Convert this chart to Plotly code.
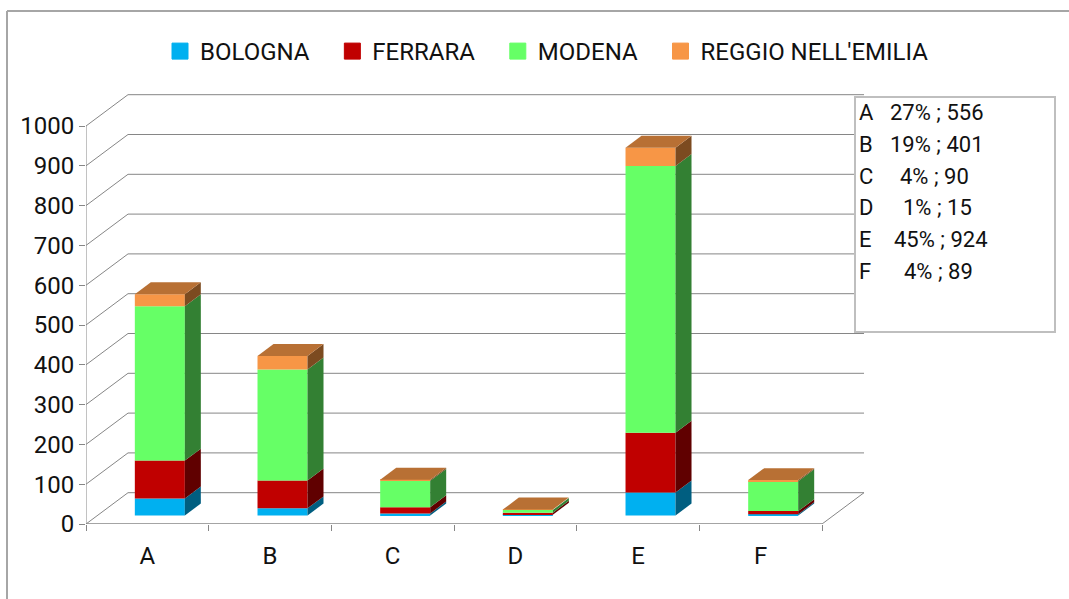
import plotly.graph_objects as go

# data
categories = ["A", "B", "C", "D", "E", "F"]
bologna = [43, 18, 5, 2, 58, 3]
ferrara = [95, 70, 16, 5, 150, 8]
modena = [388, 279, 66, 7, 670, 75]
reggio = [30, 34, 3, 1, 46, 3]
series_names = ["BOLOGNA", "FERRARA", "MODENA", "REGGIO NELL'EMILIA"]
y_ticks = [0, 100, 200, 300, 400, 500, 600, 700, 800, 900, 1000]
box_letters = ["A", "B", "C", "D", "E", "F"]
box_texts = ["27% ; 556", "19% ; 401", "4% ; 90", "1% ; 15", "45% ; 924", "4% ; 89"]

front_colors = ["#00B0F0", "#C00000", "#66FF66", "#F79646"]
side_colors = ["#005E80", "#600000", "#338033", "#7C4B20"]
top_color = "#B87034"
grid_color = "#868686"
frame_color = "#A6A6A6"
font = "Roboto"
text_color = "#111111"

# page geometry in pixels, the plot area is a bit taller than the back wall so its top line is not clipped
W, H = 1069, 599
left, right, top, bottom = 86, 866, 92, 524
slot_px = 122.67
px_per_unit = 0.398

# 3d projection, in axis units
wall_dx = 42 / slot_px
wall_dy = 31.3 / px_per_unit
bar_dx = 16 / slot_px
bar_dy = 30
shift_x = 12.5 / slot_px
shift_y = 8.5 / px_per_unit
bar_w = 50 / slot_px
n = len(categories)


def paper_x(px):
    return (px - left) / (right - left)


def paper_y(px):
    return (bottom - px) / (bottom - top)


fig = go.Figure()

all_series = [bologna, ferrara, modena, reggio]
bases = [shift_y] * n
for s, values in enumerate(all_series):
    xs = [i + 0.5 + shift_x for i in range(n)]
    fig.add_trace(go.Bar(x=xs, y=values, base=bases, width=bar_w, showlegend=False,
                         marker=dict(color=front_colors[s], line_width=0), hoverinfo="skip"))
    for i in range(n):
        x1 = xs[i] + bar_w / 2
        b = bases[i]
        t = b + values[i]
        # side face of this segment
        fig.add_trace(go.Scatter(x=[x1, x1 + bar_dx, x1 + bar_dx, x1, x1],
                                 y=[b, b + bar_dy, t + bar_dy, t, b],
                                 mode="lines", fill="toself", fillcolor=side_colors[s],
                                 line=dict(width=0), showlegend=False, hoverinfo="skip"))
    bases = [bases[i] + values[i] for i in range(n)]

# top faces
for i in range(n):
    x0 = i + 0.5 + shift_x - bar_w / 2
    x1 = x0 + bar_w
    t = bases[i]
    fig.add_trace(go.Scatter(x=[x0, x1, x1 + bar_dx, x0 + bar_dx, x0],
                             y=[t, t, t + bar_dy, t + bar_dy, t],
                             mode="lines", fill="toself", fillcolor=top_color,
                             line=dict(width=0), showlegend=False, hoverinfo="skip"))

# legend entries, bigger squares than the bar traces would give
# the nbsp padding spreads the entries out, plotly has no gap setting for this
for s, name in enumerate(series_names):
    pad = "\u00a0" * 3 if s < len(series_names) - 1 else ""
    fig.add_trace(go.Scatter(x=[None], y=[None], mode="markers", name=name + pad,
                             marker=dict(symbol="square", size=16, color=front_colors[s],
                                         line=dict(width=1, color=front_colors[s]))))

shapes = []
for v in y_ticks:
    shapes.append(dict(type="line", xref="x", yref="y", x0=0, y0=v, x1=wall_dx, y1=v + wall_dy,
                       line=dict(color=grid_color, width=1), layer="below"))
    shapes.append(dict(type="line", xref="x", yref="y", x0=wall_dx, y0=v + wall_dy, x1=n + wall_dx, y1=v + wall_dy,
                       line=dict(color=grid_color, width=1), layer="below"))
# floor edges and axis lines
shapes.append(dict(type="line", xref="x", yref="y", x0=n, y0=0, x1=n + wall_dx, y1=wall_dy,
                   line=dict(color=grid_color, width=1), layer="below"))
shapes.append(dict(type="line", xref="x", yref="y", x0=0, y0=0, x1=n, y1=0,
                   line=dict(color=grid_color, width=1.5), layer="below"))
shapes.append(dict(type="line", xref="x", yref="y", x0=0, y0=0, x1=0, y1=1000,
                   line=dict(color=grid_color, width=1), layer="below"))
# frame of the picture
shapes.append(dict(type="line", xref="paper", yref="paper", x0=paper_x(7), y0=paper_y(11), x1=paper_x(W), y1=paper_y(11),
                   line=dict(color=frame_color, width=2)))
shapes.append(dict(type="line", xref="paper", yref="paper", x0=paper_x(7), y0=paper_y(11), x1=paper_x(7), y1=paper_y(H),
                   line=dict(color=frame_color, width=2)))
# text box on the right
shapes.append(dict(type="rect", xref="paper", yref="paper", x0=paper_x(855), y0=paper_y(97), x1=paper_x(1055), y1=paper_y(332),
                   fillcolor="white", line=dict(color="#BFBFBF", width=2), layer="above"))

annotations = []
row_y = [112.5, 144.5, 176.5, 207.5, 239.5, 271.5]
row_x = [889, 889, 899, 902, 893, 903]
for letter, txt, ry, rx in zip(box_letters, box_texts, row_y, row_x):
    annotations.append(dict(xref="paper", yref="paper", x=paper_x(858), y=paper_y(ry), text=letter, showarrow=False,
                            xanchor="left", yanchor="middle", borderpad=0, font=dict(family=font, size=22, color=text_color)))
    annotations.append(dict(xref="paper", yref="paper", x=paper_x(rx), y=paper_y(ry), text=txt, showarrow=False,
                            xanchor="left", yanchor="middle", borderpad=0, font=dict(family=font, size=22, color=text_color)))

fig.update_layout(
    width=W, height=H, autosize=False,
    margin=dict(l=left, r=W - right, t=top, b=H - bottom, pad=0),
    paper_bgcolor="white", plot_bgcolor="white",
    barmode="overlay",
    shapes=shapes, annotations=annotations,
    legend=dict(orientation="h", xref="container", yref="container", x=160 / W, y=1 - 29 / H,
                xanchor="left", yanchor="top", itemsizing="trace", traceorder="normal",
                font=dict(family=font, size=24, color=text_color)),
    xaxis=dict(range=[0, (right - left) / slot_px], showgrid=False, zeroline=False, showline=False,
               tickvals=[i + 0.5 for i in range(n)], ticktext=categories, ticks="", ticklabelstandoff=15,
               tickfont=dict(family=font, size=24, color=text_color),
               minor=dict(tick0=0, dtick=1, ticks="outside", ticklen=6, tickcolor=grid_color, showgrid=False)),
    yaxis=dict(range=[0, (bottom - top) / px_per_unit], showgrid=False, zeroline=False, showline=False,
               tickvals=y_ticks, ticks="outside", ticklen=6, tickcolor=grid_color,
               tickfont=dict(family=font, size=24, color=text_color)),
)

# the page is photographed from its corner, drop the default body margin
fig.write_html("out.html", config=dict(displayModeBar=False),
               post_script="document.body.style.margin='0';")
